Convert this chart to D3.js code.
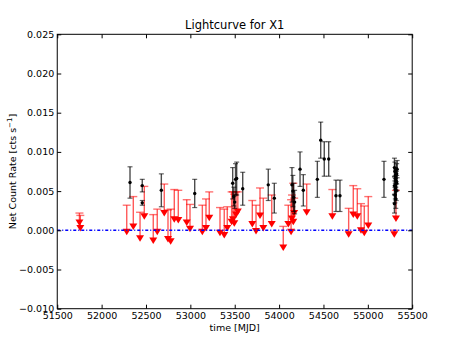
<!DOCTYPE html>
<html>
<head>
<meta charset="utf-8">
<script src="https://cdn.jsdelivr.net/npm/d3@7"></script>
<style>
body { margin: 0; background: #fff; }
text { font-family: "DejaVu Sans", sans-serif; }
</style>
</head>
<body>
<div id="chart"></div>
<script>
var width = 458;
var height = 343;
var margin = { left: 57.25, right: 45.8, top: 34.3, bottom: 34.3 };

// detections (black points with error bars)
var detMjd = [52320, 52458, 52458, 52673, 53049, 53477, 53490, 53500, 53509, 53522,
  53590, 53878, 53946, 54145, 54155, 54165, 54175, 54236, 54273, 54431,
  54469, 54509, 54559, 54641, 54686, 55182, 55300, 55305, 55310, 55315,
  55320, 55325, 55300, 55310, 55320, 55305, 55315, 55300, 55325, 55330];
var detRate = [0.0061, 0.0057, 0.0035, 0.0051, 0.0047, 0.0060, 0.0043, 0.0036, 0.0065, 0.0066,
  0.0053, 0.0058, 0.0041, 0.0058, 0.0050, 0.0042, 0.0036, 0.0078, 0.0051, 0.0065,
  0.0115, 0.0091, 0.0091, 0.0044, 0.0044, 0.0065, 0.0080, 0.0075, 0.0070, 0.0066,
  0.0063, 0.0060, 0.0057, 0.0053, 0.0050, 0.0045, 0.0040, 0.0034, 0.0072, 0.0078];
var detErr = [0.0020, 0.0008, 0.0003, 0.0021, 0.0018, 0.0020, 0.0012, 0.0008, 0.0020, 0.0021,
  0.0021, 0.0020, 0.0019, 0.0022, 0.0020, 0.0018, 0.0015, 0.0022, 0.0020, 0.0023,
  0.0023, 0.0022, 0.0022, 0.0020, 0.0020, 0.0023, 0.0012, 0.0012, 0.0010, 0.0011,
  0.0012, 0.0010, 0.0012, 0.0013, 0.0012, 0.0010, 0.0012, 0.0012, 0.0013, 0.0011];

// upper limits (red arrows)
var limMjd = [51750, 51760, 52283, 52357, 52433, 52481, 52582, 52627, 52706, 52748,
  52778, 52819, 52864, 52959, 52996, 53135, 53176, 53213, 53334, 53382,
  53416, 53465, 53480, 53495, 53515, 53535, 53698, 53740, 53785, 53822,
  53917, 54047, 54104, 54135, 54145, 54160, 54170, 54311, 54600, 54784,
  54836, 54881, 54923, 54960, 55005, 55298, 55317];
var limUpper = [0.0022, 0.0019, 0.0032, 0.0043, 0.0023, 0.0056, 0.0020, 0.0027, 0.0059, 0.0026,
  0.0027, 0.0052, 0.0051, 0.0039, 0.0033, 0.0032, 0.0040, 0.0049, 0.0029, 0.0027,
  0.0030, 0.0049, 0.0049, 0.0046, 0.0049, 0.0049, 0.0038, 0.0032, 0.0054, 0.0041,
  0.0045, 0.0005, 0.0032, 0.0039, 0.0045, 0.0060, 0.0041, 0.0059, 0.0052, 0.0028,
  0.0057, 0.0053, 0.0034, 0.0031, 0.0043, 0.0000, 0.0051];
var limRate = [0.0010, 0.0003, -0.0002, 0.0005, -0.0010, 0.0018, -0.0013, -0.0002, 0.0022, -0.0011,
  -0.0014, 0.0014, 0.0013, 0.0010, 0.0002, -0.0002, 0.0003, 0.0016, -0.0003, -0.0006,
  0.0003, 0.0011, 0.0014, 0.0009, 0.0020, 0.0024, 0.0008, -0.0001, 0.0019, 0.0003,
  0.0008, -0.0022, 0.0008, -0.0002, 0.0015, 0.0011, 0.0022, 0.0023, 0.0018, -0.0005,
  0.0020, 0.0018, 0.0000, -0.0003, 0.0006, -0.0005, 0.0015];

var xTicks = [51500, 52000, 52500, 53000, 53500, 54000, 54500, 55000, 55500];
var yTicks = [-0.010, -0.005, 0.000, 0.005, 0.010, 0.015, 0.020, 0.025];

var svg = d3.select("#chart")
    .append("svg")
    .attr("width", width)
    .attr("height", height);

var x = d3.scaleLinear().domain([51500, 55500]).range([margin.left, width - margin.right]);
var y = d3.scaleLinear().domain([-0.010, 0.025]).range([height - margin.bottom, margin.top]);

var fmtY = function(d) { return d3.format(".3f")(d).replace("-", "\u2212"); };

// upper limits
var lims = limMjd.map(function(m, i) { return { x: m, up: limUpper[i], v: limRate[i] }; });
var gl = svg.append("g");
gl.selectAll("line.bar").data(lims).enter().append("line")
    .attr("x1", d => x(d.x)).attr("x2", d => x(d.x))
    .attr("y1", d => y(d.up)).attr("y2", d => y(d.v))
    .style("stroke", "red").style("stroke-opacity", 0.65).style("stroke-width", 1.4);
gl.selectAll("line.cap").data(lims).enter().append("line")
    .attr("x1", d => x(d.x) - 4).attr("x2", d => x(d.x) + 4)
    .attr("y1", d => y(d.up)).attr("y2", d => y(d.up))
    .style("stroke", "red").style("stroke-opacity", 0.55).style("stroke-width", 1.4);
gl.selectAll("path").data(lims).enter().append("path")
    .attr("d", d => {
        var cx = x(d.x), cy = y(d.v);
        return "M" + (cx - 4) + "," + (cy - 3) + "L" + (cx + 4) + "," + (cy - 3) + "L" + cx + "," + (cy + 3.5) + "Z";
    })
    .style("fill", "red");

// detections
var dets = detMjd.map(function(m, i) { return { x: m, v: detRate[i], e: detErr[i] }; });
var gd = svg.append("g");
gd.selectAll("line.bar").data(dets).enter().append("line")
    .attr("x1", d => x(d.x)).attr("x2", d => x(d.x))
    .attr("y1", d => y(d.v + d.e)).attr("y2", d => y(d.v - d.e))
    .style("stroke", "black").style("stroke-opacity", 0.7).style("stroke-width", 1.4);
[1, -1].forEach(function(s) {
    gd.selectAll("line.cap" + s).data(dets).enter().append("line")
        .attr("x1", d => x(d.x) - 2.5).attr("x2", d => x(d.x) + 2.5)
        .attr("y1", d => y(d.v + s * d.e)).attr("y2", d => y(d.v + s * d.e))
        .style("stroke", "black").style("stroke-opacity", 0.6).style("stroke-width", 1.2);
});
gd.selectAll("circle").data(dets).enter().append("circle")
    .attr("cx", d => x(d.x)).attr("cy", d => y(d.v)).attr("r", 1.7)
    .style("fill", "black");

// zero line
svg.append("line")
    .attr("x1", x(51500)).attr("x2", x(55500))
    .attr("y1", y(0)).attr("y2", y(0))
    .style("stroke", "blue").style("stroke-width", 1.5)
    .style("stroke-dasharray", "3,2,1,2");

// axes, ticks pointing inward
svg.append("g")
    .attr("transform", "translate(0," + (height - margin.bottom) + ")")
    .call(d3.axisBottom(x).tickValues(xTicks).tickFormat(d3.format("d")).tickSize(-4).tickPadding(4))
    .call(g => g.select(".domain").remove())
    .selectAll("text").style("font-size", "9.5px").style("fill", "black");
svg.append("g")
    .attr("transform", "translate(0," + margin.top + ")")
    .call(d3.axisTop(x).tickValues(xTicks).tickFormat("").tickSize(-4))
    .call(g => g.select(".domain").remove());
svg.append("g")
    .attr("transform", "translate(" + margin.left + ",0)")
    .call(d3.axisLeft(y).tickValues(yTicks).tickFormat(fmtY).tickSize(-4).tickPadding(3))
    .call(g => g.select(".domain").remove())
    .selectAll("text").style("font-size", "9.5px").style("fill", "black");
svg.append("g")
    .attr("transform", "translate(" + (width - margin.right) + ",0)")
    .call(d3.axisRight(y).tickValues(yTicks).tickFormat("").tickSize(-4))
    .call(g => g.select(".domain").remove());

svg.append("rect")
    .attr("x", margin.left).attr("y", margin.top)
    .attr("width", width - margin.left - margin.right)
    .attr("height", height - margin.top - margin.bottom)
    .style("fill", "none").style("stroke", "black").style("stroke-width", 1);

// labels
svg.append("text")
    .attr("x", (margin.left + width - margin.right) / 2).attr("y", 29)
    .attr("text-anchor", "middle").style("font-size", "11.5px")
    .text("Lightcurve for X1");
svg.append("text")
    .attr("x", (margin.left + width - margin.right) / 2).attr("y", 331)
    .attr("text-anchor", "middle").style("font-size", "9.5px")
    .text("time [MJD]");
var yl = svg.append("text")
    .attr("transform", "translate(16," + ((margin.top + height - margin.bottom) / 2) + ") rotate(-90)")
    .attr("text-anchor", "middle").style("font-size", "9.5px");
yl.append("tspan").text("Net Count Rate [cts s");
yl.append("tspan").attr("dy", -4).style("font-size", "7px").text("\u22121");
yl.append("tspan").attr("dy", 4).text("]");
</script>
</body>
</html>
